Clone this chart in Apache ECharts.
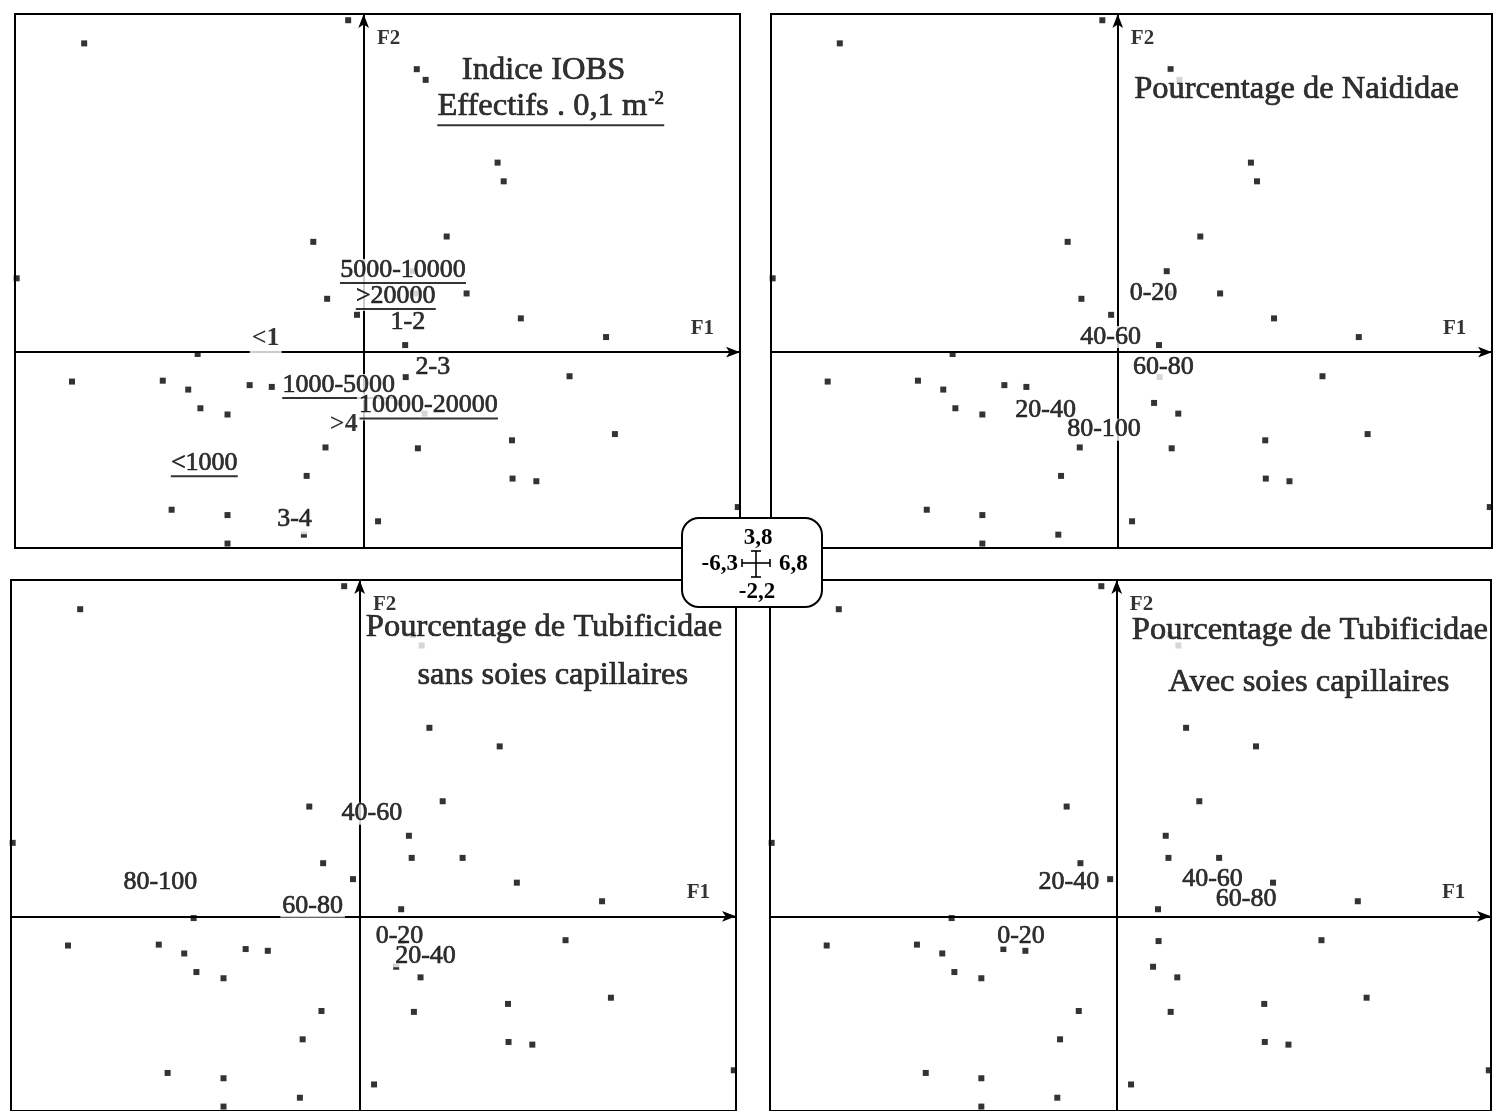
<!DOCTYPE html>
<html>
<head>
<meta charset="utf-8">
<script src="https://cdn.jsdelivr.net/npm/echarts@6/dist/echarts.min.js"></script>
<style>
html,body{margin:0;padding:0;background:#fff;}
#chart{width:1493px;height:1111px;}
</style>
</head>
<body>
<div id="chart"></div>
<script>
// ---------------- DATA ----------------
// Factorial plane extent (F1 horizontal, F2 vertical)
const F1_MIN = -6.3, F1_MAX = 6.8;
const F2_MIN = -2.2, F2_MAX = 3.8;

// Sampling sites projected on the F1 x F2 plane (same in the four maps)
const sitesCommon = [
  [-5.05, 3.47], [-0.28, 3.73], [0.96, 3.18], [1.12, 3.06], [2.53, 1.92],
  [1.50, 1.30], [-0.91, 1.24], [-6.27, 0.83], [0.89, 0.91], [0.94, 0.66],
  [1.86, 0.66], [-0.66, 0.60], [-0.12, 0.42], [2.84, 0.38], [4.38, 0.17],
  [0.75, 0.08], [-3.00, -0.02], [-5.27, -0.33], [-3.63, -0.32], [-3.17, -0.42],
  [-2.06, -0.37], [-1.66, -0.39], [0.76, -0.28], [3.72, -0.27], [0.66, -0.57],
  [1.10, -0.69], [-2.95, -0.63], [-2.46, -0.70], [2.68, -0.99], [4.54, -0.92],
  [-0.69, -1.07], [0.98, -1.08], [-1.03, -1.39], [2.69, -1.42], [3.12, -1.45],
  [-3.47, -1.77], [-2.46, -1.83], [0.26, -1.90], [6.76, -1.74], [-1.08, -2.05],
  [-2.46, -2.15]
];
const sitesTopOnly = [[2.42, 2.13]];
const sitesBottomOnly = [[1.26, 2.13]];

// Panel titles
const titleIOBS = 'Indice IOBS';
const unitIOBS = ['Effectifs . 0,1 m', '-2'];
const titleNaid = 'Pourcentage de Naididae';
const titleTubi = 'Pourcentage de Tubificidae';
const subTubiSans = 'sans soies capillaires';
const subTubiAvec = 'Avec soies capillaires';
const axisNames = ['F1', 'F2'];

// Class labels (projected modalities)
const iobsClasses = ['<1', '5000-10000', '>20000', '1-2', '2-3', '1000-5000', '10000-20000', '>4', '<1000', '3-4'];
const naidClasses = ['0-20', '40-60', '60-80', '20-40', '80-100'];
const tubiSansClasses = ['40-60', '80-100', '60-80', '0-20', '20-40'];
const tubiAvecClasses = ['20-40', '40-60', '60-80', '0-20'];

// Scale box values
const scaleVals = ['3,8', '-6,3', '6,8', '-2,2'];

// ---------------- LAYOUT ----------------
const FONT = '"Liberation Serif", "Times New Roman", serif';
const TITLE_SIZE = 32.5, CLASS_SIZE = 26, SUP_SIZE = 19, AX_SIZE = 21;
const grids = [
  {left: 15, top: 14, width: 725, height: 534},
  {left: 771, top: 14, width: 721, height: 534},
  {left: 11, top: 580, width: 725, height: 534},
  {left: 770, top: 580, width: 721, height: 534}
];

// anchor positions (data coordinates) + style kind (+ optional padding) for each label
const iobsLayout = [
  [-1.77, 0.12, 'b', [0, 2, 6, 2]], [0.71, 0.90, 'u'], [0.58, 0.61, 'u'], [0.80, 0.34, 'c'],
  [1.25, -0.17, 'c'], [-0.45, -0.39, 'u'], [1.17, -0.62, 'u'], [-0.36, -0.81, 'b'],
  [-2.88, -1.27, 'u'], [-1.25, -1.90, 'c', [0, 2, 4, 2]]
];
const naidLayout = [[0.65, 0.66], [-0.13, 0.17], [0.83, -0.19, 'c', [0, 2, 3, 2]], [-1.31, -0.65], [-0.25, -0.87]];
const tubiSansLayout = [[0.22, 1.16], [-3.60, 0.38], [-0.85, 0.11], [0.72, -0.22], [1.19, -0.45]];
const tubiAvecLayout = [[-0.87, 0.39], [1.74, 0.42], [2.35, 0.19], [-1.74, -0.22]];
const TITLE_PAD = [1, 2, 6, 2];

// text measurement for underlines
const mctx = document.createElement('canvas').getContext('2d');
function measure(text, size, weight) {
  mctx.font = (weight || 'normal') + ' ' + size + 'px ' + FONT;
  return mctx.measureText(text).width;
}

const STROKE = {textBorderColor: '#000', textBorderWidth: 0.7};
function baseRich() {
  return {
    t:  Object.assign({fontFamily: FONT, fontSize: TITLE_SIZE, color: '#000', lineHeight: 34}, STROKE),
    sup:Object.assign({fontFamily: FONT, fontSize: SUP_SIZE, color: '#000', padding: [0, 0, 15, 1]}, STROKE),
    c:  Object.assign({fontFamily: FONT, fontSize: CLASS_SIZE, color: '#000', lineHeight: 22}, STROKE),
    cb: {fontFamily: FONT, fontSize: CLASS_SIZE, fontWeight: 'bold', color: '#000', lineHeight: 22},
    ax: {fontFamily: FONT, fontSize: AX_SIZE, fontWeight: 'bold', color: '#000', lineHeight: 20}
  };
}

function lbl(x, y, fmt, pad) {
  const it = {value: [x, y], fmt: fmt};
  if (pad) it.label = {padding: pad};
  return it;
}

function buildLabels(i, rich) {
  let uid = 0;
  function underline(w) {
    const key = 'u' + (uid++);
    rich[key] = {width: Math.round(w), height: 2, lineHeight: 4, fontSize: 2, backgroundColor: '#000'};
    return '\n{' + key + '| }';
  }
  function classItems(names, layout) {
    return names.map((n, k) => {
      const L = layout[k];
      const kind = L[2] || 'c';
      let fmt;
      if (kind === 'u') fmt = '{c|' + n + '}' + underline(measure(n, CLASS_SIZE));
      else if (kind === 'b') fmt = '{cb|' + n + '}';
      else fmt = '{c|' + n + '}';
      return lbl(L[0], L[1], fmt, L[3]);
    });
  }
  let items;
  if (i === 0) {
    const uw = measure(unitIOBS[0], TITLE_SIZE) + measure(unitIOBS[1], SUP_SIZE) + 1;
    items = [
      lbl(3.25, 3.17, '{t|' + titleIOBS + '}'),
      lbl(3.38, 2.74, '{t|' + unitIOBS[0] + '}{sup|' + unitIOBS[1] + '}' + underline(uw)),
      ...classItems(iobsClasses, iobsLayout)
    ];
  } else if (i === 1) {
    items = [lbl(3.25, 2.92, '{t|' + titleNaid + '}', TITLE_PAD), ...classItems(naidClasses, naidLayout)];
  } else if (i === 2) {
    items = [lbl(3.33, 3.23, '{t|' + titleTubi + '}', TITLE_PAD), lbl(3.49, 2.72, '{t|' + subTubiSans + '}'),
      ...classItems(tubiSansClasses, tubiSansLayout)];
  } else {
    items = [lbl(3.51, 3.20, '{t|' + titleTubi + '}', TITLE_PAD), lbl(3.49, 2.64, '{t|' + subTubiAvec + '}'),
      ...classItems(tubiAvecClasses, tubiAvecLayout)];
  }
  items.push(lbl(6.12, 0.27, '{ax|' + axisNames[0] + '}'));
  items.push(lbl(0.45, 3.52, '{ax|' + axisNames[1] + '}'));
  return items;
}

const xAxes = [], yAxes = [], series = [];
grids.forEach((g, i) => {
  g.show = true; g.borderColor = '#000'; g.borderWidth = 2; g.containLabel = false;
  const axisLine = {onZero: true, symbol: ['none', 'arrow'], symbolSize: [8, 14],
    lineStyle: {color: '#000', width: 2}};
  xAxes.push({gridIndex: i, type: 'value', min: F1_MIN, max: F1_MAX, axisLine: axisLine,
    axisTick: {show: false}, axisLabel: {show: false}, splitLine: {show: false}});
  yAxes.push({gridIndex: i, type: 'value', min: F2_MIN, max: F2_MAX, axisLine: axisLine,
    axisTick: {show: false}, axisLabel: {show: false}, splitLine: {show: false}});
  const pts = sitesCommon.concat(i < 2 ? sitesTopOnly : sitesBottomOnly);
  series.push({
    type: 'scatter', xAxisIndex: i, yAxisIndex: i, data: pts,
    symbol: 'rect', symbolSize: 6, itemStyle: {color: '#000'}, silent: true, z: 2
  });
  const rich = baseRich();
  const labs = buildLabels(i, rich);
  series.push({
    type: 'scatter', xAxisIndex: i, yAxisIndex: i, data: labs,
    symbolSize: 0, silent: true, z: 10, zlevel: 1,
    label: {show: true, position: 'inside', align: 'center', verticalAlign: 'middle',
      formatter: p => p.data.fmt, rich: rich, backgroundColor: '#fff', padding: [0, 2]},
    labelLayout: {hideOverlap: false}
  });
});

// Scale box in the centre
const bx = 682, by = 518, bw = 140, bh = 89;
const cx = 756, cy = 563;
function txt(s, x, y, align) {
  return {type: 'text', x: x, y: y, z: 101, zlevel: 2,
    style: {text: s, font: 'bold 23px ' + FONT, fill: '#000',
      align: align, textAlign: align, verticalAlign: 'middle', textVerticalAlign: 'middle'}};
}
function ln(x1, y1, x2, y2) {
  return {type: 'line', z: 101, zlevel: 2, shape: {x1: x1, y1: y1, x2: x2, y2: y2},
    style: {stroke: '#000', lineWidth: 1.6}};
}
const graphic = [
  {type: 'rect', z: 100, zlevel: 2, shape: {x: bx, y: by, width: bw, height: bh, r: 17},
    style: {fill: '#fff', stroke: '#000', lineWidth: 2}},
  txt(scaleVals[0], 758, 538, 'center'),
  txt(scaleVals[1], 738, 564, 'right'),
  txt(scaleVals[2], 779, 564, 'left'),
  txt(scaleVals[3], 757, 592, 'center'),
  ln(742, cy, 770, cy), ln(742, cy - 4, 742, cy + 4), ln(770, cy - 4, 770, cy + 4),
  ln(cx, 551, cx, 577), ln(cx - 5, 551, cx + 5, 551), ln(cx - 5, 577, cx + 5, 577)
];

const chart = echarts.init(document.getElementById('chart'), null, {renderer: 'canvas'});
chart.setOption({
  backgroundColor: '#fff',
  animation: false,
  grid: grids,
  xAxis: xAxes,
  yAxis: yAxes,
  series: series,
  graphic: graphic
});
</script>
</body>
</html>
